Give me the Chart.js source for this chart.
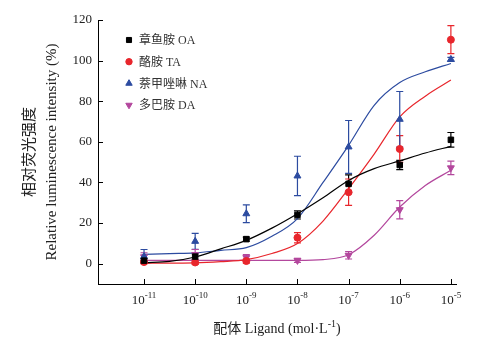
<!DOCTYPE html>
<html>
<head>
<meta charset="utf-8">
<script src="https://cdn.jsdelivr.net/npm/chart.js@4.4.1/dist/chart.umd.min.js"></script>
<style>
  html, body { margin: 0; padding: 0; background: #fff; }
</style>
</head>
<body>
<canvas id="ligandChart" width="481" height="350"></canvas>
<script>
// Concentraciones de los puntos medidos (mol/L)
const concentrations = [1e-11, 1e-10, 1e-9, 1e-8, 1e-7, 1e-6, 1e-5];

// Medias y error (%)
const oaMean = [1.5, 3.5, 12.1, 24.0, 39.3, 48.6, 61.0];
const oaErr  = [1.0, 1.5, 1.0, 2.0, 4.4, 2.3, 3.6];
const taMean = [0.8, 0.6, 1.3, 12.8, 35.2, 56.5, 110.3];
const taErr  = [0.8, 1.0, 1.0, 2.5, 6.5, 6.6, 6.9];
const naMean = [3.6, 11.0, 24.6, 43.2, 57.5, 71.1, 100.6];
const naErr  = [3.4, 3.9, 4.4, 9.7, 13.0, 13.7, 1.0];
const daMean = [3.4, 4.5, 3.0, 1.6, 4.1, 26.6, 47.2];
const daErr  = [2.0, 2.5, 1.5, 1.0, 1.8, 4.5, 3.3];

// Curvas ajustadas, leídas cada media década (exponente de 10)
const curveExp = [-11, -10.5, -10, -9.5, -9, -8.5, -8, -7.5, -7, -6.5, -6, -5.5, -5];
const oaCurve = [0.5, 1.1, 3.3, 7.3, 11.5, 17.5, 24.6, 32.5, 41.0, 46.8, 50.6, 54.5, 57.8];
const taCurve = [0.2, 0.3, 0.4, 1.0, 2.0, 5.0, 9.9, 21.0, 37.0, 54.0, 72.3, 82.5, 90.4];
const naCurve = [4.6, 5.0, 5.3, 6.6, 7.9, 13.5, 22.2, 40.0, 58.3, 78.0, 89.2, 94.5, 98.6];
const daCurve = [1.6, 1.6, 1.6, 1.6, 1.6, 1.6, 1.6, 2.0, 4.4, 14.0, 27.9, 38.5, 46.0];

// Ejes
const xTickExp = [-11, -10, -9, -8, -7, -6, -5];
const yTicks = [0, 20, 40, 60, 80, 100, 120];

const series = [
    { label: '章鱼胺 OA', mean: oaMean, err: oaErr, curve: oaCurve, color: '#000000', style: 'rect', radius: 3.9, rotation: 0 },
    { label: '酪胺 TA', mean: taMean, err: taErr, curve: taCurve, color: '#e8262c', style: 'circle', radius: 3.5, rotation: 0 },
    { label: '萘甲唑啉 NA', mean: naMean, err: naErr, curve: naCurve, color: '#2c4ba0', style: 'triangle', radius: 4, rotation: 0 },
    { label: '多巴胺 DA', mean: daMean, err: daErr, curve: daCurve, color: '#b3479d', style: 'triangle', radius: 4, rotation: 180 }
];

const FONT = '"Liberation Serif", "Times New Roman", "Noto Sans CJK SC", serif';
const TEXT_COLOR = '#222';

const datasets = [];
series.forEach(s => {
    datasets.push({
        type: 'line',
        label: s.label + ' fit',
        data: curveExp.map((e, i) => ({ x: Math.pow(10, e), y: s.curve[i] })),
        borderColor: s.color,
        borderWidth: 1.2,
        pointRadius: 0,
        cubicInterpolationMode: 'monotone',
        fill: false,
        order: 2
    });
    datasets.push({
        type: 'scatter',
        label: s.label,
        data: concentrations.map((c, i) => ({ x: c, y: s.mean[i] })),
        errors: s.err,
        backgroundColor: s.color,
        borderColor: s.color,
        borderWidth: 1,
        pointStyle: s.style,
        pointRadius: s.radius,
        pointRotation: s.rotation,
        order: 1
    });
});

// Texto con superíndice
function drawSup(ctx, base, sup, x, y, size, align) {
    ctx.font = size + 'px ' + FONT;
    const wb = ctx.measureText(base).width;
    const small = Math.round(size * 0.7);
    ctx.font = small + 'px ' + FONT;
    const ws = ctx.measureText(sup).width;
    const x0 = align === 'center' ? x - (wb + ws) / 2 : x;
    ctx.textAlign = 'left';
    ctx.textBaseline = 'alphabetic';
    ctx.font = size + 'px ' + FONT;
    ctx.fillText(base, x0, y);
    ctx.font = small + 'px ' + FONT;
    ctx.fillText(sup, x0 + wb, y - size * 0.45);
    return x0 + wb + ws;
}

const errorBarsPlugin = {
    id: 'errorBars',
    beforeDatasetsDraw(chart) {
        const ctx = chart.ctx;
        const xs = chart.scales.x, ys = chart.scales.y;
        ctx.save();
        chart.data.datasets.forEach(ds => {
            if (!ds.errors) return;
            ctx.strokeStyle = ds.borderColor;
            ctx.lineWidth = 1.2;
            ds.data.forEach((p, i) => {
                const px = xs.getPixelForValue(p.x);
                const top = ys.getPixelForValue(p.y + ds.errors[i]);
                const bot = ys.getPixelForValue(p.y - ds.errors[i]);
                ctx.beginPath();
                ctx.moveTo(px, top); ctx.lineTo(px, bot);
                ctx.moveTo(px - 3.5, top); ctx.lineTo(px + 3.5, top);
                ctx.moveTo(px - 3.5, bot); ctx.lineTo(px + 3.5, bot);
                ctx.stroke();
            });
        });
        ctx.restore();
    }
};

const axisDecorPlugin = {
    id: 'axisDecor',
    afterDraw(chart) {
        const ctx = chart.ctx;
        const xs = chart.scales.x, ys = chart.scales.y;
        const area = chart.chartArea;
        ctx.save();
        // marcas hacia dentro
        ctx.strokeStyle = '#000';
        ctx.lineWidth = 1;
        ctx.beginPath();
        yTicks.forEach(v => {
            const py = Math.round(ys.getPixelForValue(v)) + 0.5;
            ctx.moveTo(area.left, py); ctx.lineTo(area.left + 5, py);
        });
        xTickExp.forEach(e => {
            const px = Math.round(xs.getPixelForValue(Math.pow(10, e))) + 0.5;
            ctx.moveTo(px, area.bottom); ctx.lineTo(px, area.bottom - 5);
        });
        ctx.stroke();

        // etiquetas del eje x
        ctx.fillStyle = TEXT_COLOR;
        xTickExp.forEach(e => {
            const px = xs.getPixelForValue(Math.pow(10, e));
            drawSup(ctx, '10', String(e), px, area.bottom + 20, 13, 'center');
        });

        // título del eje x
        ctx.font = '14px ' + FONT;
        const pre = '配体 Ligand (mol·L';
        ctx.font = '14px ' + FONT;
        const wPre = ctx.measureText(pre).width;
        ctx.font = '10px ' + FONT;
        const wSup = ctx.measureText('-1').width;
        ctx.font = '14px ' + FONT;
        const wEnd = ctx.measureText(')').width;
        const startX = (area.left + area.right) / 2 - (wPre + wSup + wEnd) / 2;
        const endX = drawSup(ctx, pre, '-1', startX, 333, 14, 'left');
        ctx.font = '14px ' + FONT;
        ctx.fillText(')', endX, 333);

        // leyenda
        ctx.font = '12px ' + FONT;
        ctx.textBaseline = 'middle';
        ctx.textAlign = 'left';
        series.forEach((s, i) => {
            const y = 40 + i * 21.7;
            ctx.fillStyle = s.color;
            ctx.strokeStyle = s.color;
            Chart.helpers.drawPoint(ctx, { pointStyle: s.style, radius: s.radius - 0.3, rotation: s.rotation, borderWidth: 1 }, 129, y);
            ctx.fillStyle = '#333';
            ctx.fillText(s.label, 139, y + 1);
        });
        ctx.restore();
    }
};

new Chart(document.getElementById('ligandChart').getContext('2d'), {
    data: { datasets },
    options: {
        responsive: false,
        animation: false,
        layout: { padding: { top: 20, right: 25, left: 0, bottom: 0 } },
        plugins: { legend: { display: false }, tooltip: { enabled: false } },
        scales: {
            x: {
                type: 'logarithmic',
                position: 'bottom',
                min: Math.pow(10, -11.9),
                max: Math.pow(10, -4.9),
                grid: { display: false },
                border: { display: true, color: '#000', width: 1 },
                ticks: { display: false },
                afterFit(scale) { scale.height = 66; }
            },
            y: {
                type: 'linear',
                min: -10,
                max: 120,
                grid: { display: false, drawTicks: false },
                border: { display: true, color: '#000', width: 1 },
                afterBuildTicks(scale) { scale.ticks = yTicks.map(v => ({ value: v })); },
                ticks: {
                    padding: 6,
                    color: TEXT_COLOR,
                    font: { family: FONT, size: 13 }
                },
                title: {
                    display: true,
                    text: ['相对荧光强度', 'Relative luminescence intensity (%)'],
                    color: TEXT_COLOR,
                    font: { family: FONT, size: 15, lineHeight: 22 / 15 },
                    padding: { top: 19, bottom: 0 }
                },
                afterFit(scale) { scale.width = 98; }
            }
        }
    },
    plugins: [errorBarsPlugin, axisDecorPlugin]
});
</script>
</body>
</html>
